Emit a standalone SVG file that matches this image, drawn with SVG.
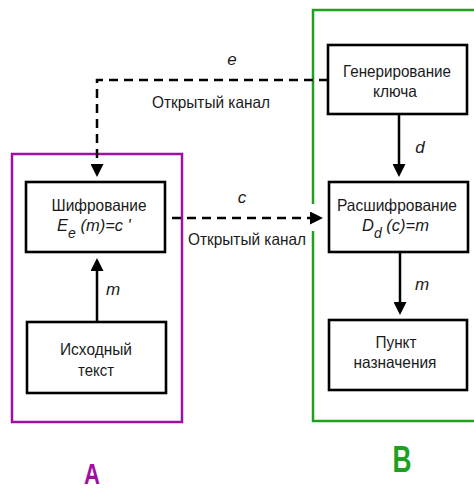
<svg xmlns="http://www.w3.org/2000/svg" width="474" height="491" viewBox="0 0 474 491">
<style>
.box{fill:#fff;stroke:#000;stroke-width:2.6}
.t{font-family:"Liberation Sans",Arial,sans-serif;font-size:16.5px;fill:#1a1a1a;text-anchor:middle}
.i{font-family:"Liberation Sans",Arial,sans-serif;font-size:17px;font-style:italic;fill:#1a1a1a;text-anchor:middle}
.ln{fill:none;stroke:#000;stroke-width:2.5}
.dash{stroke-dasharray:9 6}
.big{font-family:"Liberation Sans",Arial,sans-serif;font-weight:bold;text-anchor:middle}
</style>
<defs>
<marker id="ah" markerUnits="userSpaceOnUse" markerWidth="14" markerHeight="13" refX="7" refY="6.5" orient="auto">
<path d="M0,0 L13,6.5 L0,13 z" fill="#000"/>
</marker>
</defs>
<rect width="474" height="491" fill="#fff"/>
<g id="groupA">
<rect x="12" y="154" width="170" height="268" fill="none" stroke="#a010a0" stroke-width="2.5"/>
<text class="big" x="92" y="484" font-size="30" fill="#a010a0" textLength="16" lengthAdjust="spacingAndGlyphs">A</text>
</g>
<g id="groupB">
<rect x="313" y="10" width="180" height="411" fill="none" stroke="#20a020" stroke-width="2.5"/>
<text class="big" x="402" y="472" font-size="36" fill="#20a020" textLength="19" lengthAdjust="spacingAndGlyphs">B</text>
</g>
<rect x="309" y="204" width="8" height="27" fill="#fff"/>
<g id="connectors">
<path class="ln dash" d="M328,80 H97 V171" marker-end="url(#ah)"/>
<path class="ln" d="M399,114 V171" marker-end="url(#ah)"/>
<path class="ln dash" d="M172,218 H317" marker-end="url(#ah)"/>
<path class="ln" d="M97,322 V264" marker-end="url(#ah)"/>
<path class="ln" d="M400,252 V309" marker-end="url(#ah)"/>
<text class="i" x="232" y="65">e</text>
<text class="t" x="211" y="108" textLength="118" lengthAdjust="spacingAndGlyphs">Открытый канал</text>
<text class="i" x="420" y="153">d</text>
<text class="i" x="242" y="203">c</text>
<text class="t" x="247" y="245" textLength="118" lengthAdjust="spacingAndGlyphs">Открытый канал</text>
<text class="i" x="113" y="295">m</text>
<text class="i" x="422" y="290">m</text>
</g>
<g id="gen">
<rect class="box" x="328" y="45" width="139" height="69"/>
<text class="t" x="397" y="77" textLength="108" lengthAdjust="spacingAndGlyphs">Генерирование</text>
<text class="t" x="395" y="97" textLength="44" lengthAdjust="spacingAndGlyphs">ключа</text>
</g>
<g id="enc">
<rect class="box" x="26" y="182" width="139" height="70"/>
<text class="t" x="99" y="211" textLength="95" lengthAdjust="spacingAndGlyphs">Шифрование</text>
<text class="t" x="57" y="231" style="text-anchor:start;font-style:italic">E<tspan font-size="14" dy="7">e</tspan><tspan dy="-7"> (m)=c '</tspan></text>
</g>
<g id="dec">
<rect class="box" x="329" y="182" width="139" height="70"/>
<text class="t" x="397" y="211" textLength="120" lengthAdjust="spacingAndGlyphs">Расшифрование</text>
<text class="t" x="362" y="231" style="text-anchor:start;font-style:italic">D<tspan font-size="14" dy="7">d</tspan><tspan dy="-7"> (c)=m</tspan></text>
</g>
<g id="src">
<rect class="box" x="27" y="322" width="139" height="71"/>
<text class="t" x="96" y="355" textLength="72" lengthAdjust="spacingAndGlyphs">Исходный</text>
<text class="t" x="96" y="376" textLength="36" lengthAdjust="spacingAndGlyphs">текст</text>
</g>
<g id="dst">
<rect class="box" x="329" y="320" width="138" height="70"/>
<text class="t" x="396" y="348" textLength="41" lengthAdjust="spacingAndGlyphs">Пункт</text>
<text class="t" x="395" y="368" textLength="83" lengthAdjust="spacingAndGlyphs">назначения</text>
</g>
</svg>
